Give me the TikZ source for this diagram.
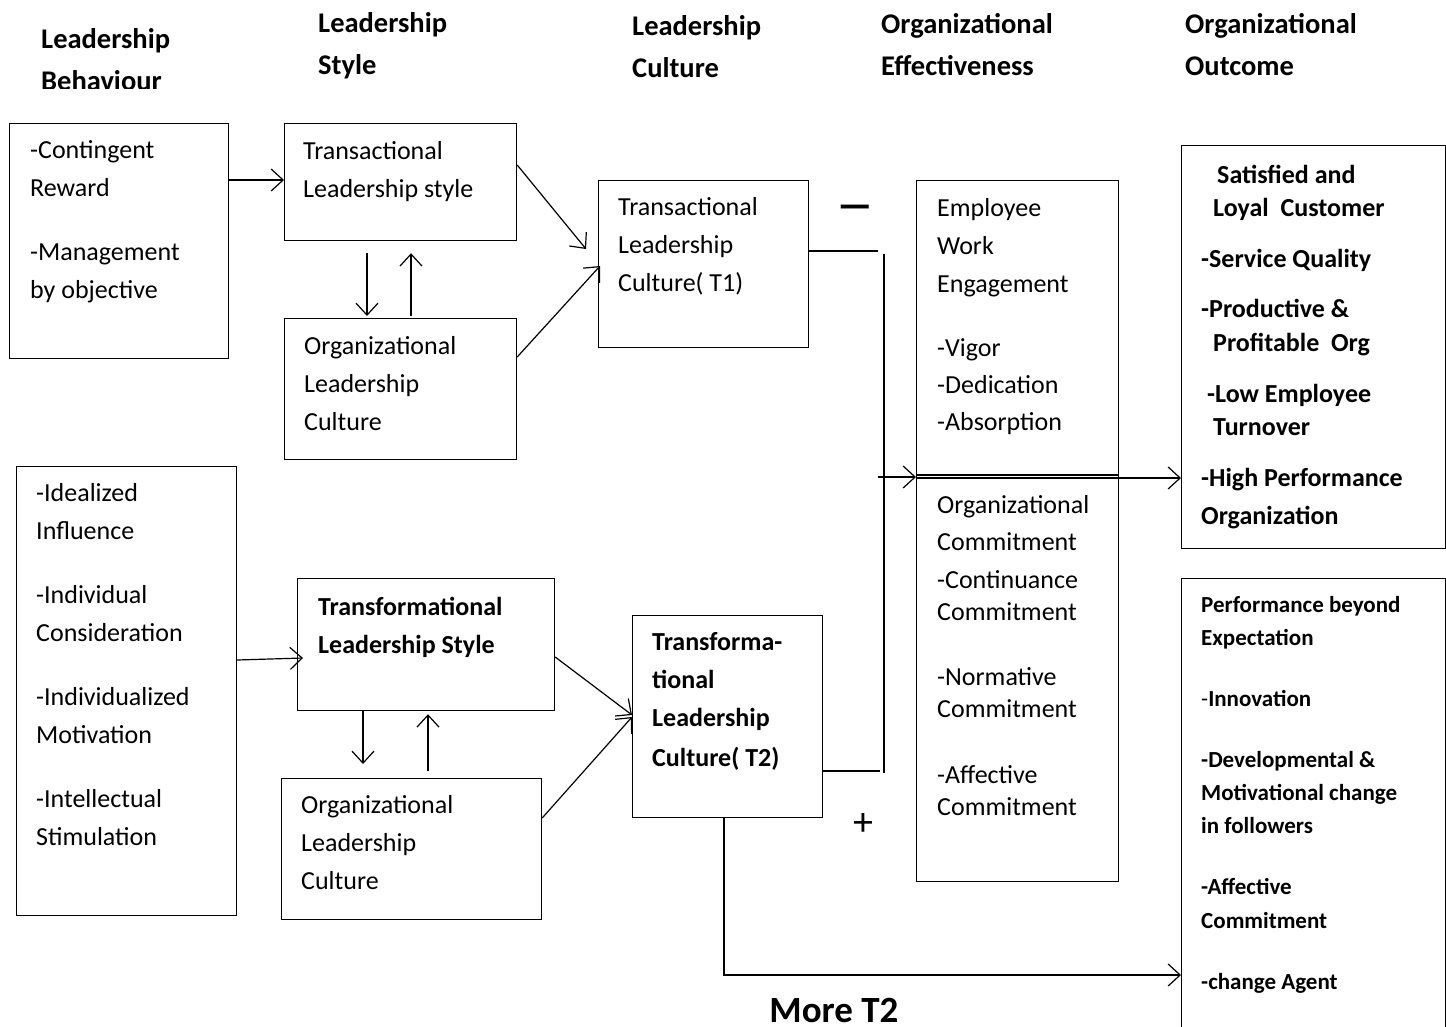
\documentclass[tikz,border=0pt]{standalone}
\usepackage{fontspec}
\setmainfont{Carlito}
\usetikzlibrary{arrows.meta,calc}

\begin{document}
\begin{tikzpicture}[x=1pt,y=-1pt,
  box/.style={draw,line width=1.2pt,rectangle,inner sep=0pt,anchor=north west},
  % multi-line texts are placed by the baseline of their last line
  txt/.style={anchor=base west,inner sep=0pt,align=left,font=\fontsize{26}{38}\selectfont},
  btxt/.style={anchor=base west,inner sep=0pt,align=left,font=\fontsize{26}{38}\selectfont\bfseries},
  otxt/.style={anchor=base west,inner sep=0pt,align=left,font=\fontsize{26}{33}\selectfont\bfseries},
  stxt/.style={anchor=base west,inner sep=0pt,align=left,font=\fontsize{23}{33}\selectfont\bfseries},
  hdr/.style={anchor=base west,inner sep=0pt,align=left,font=\fontsize{28.5}{42}\selectfont\bfseries},
  conn/.style={line width=1.2pt},
  arr/.style={line width=1.2pt,-{Straight Barb[length=12pt,width=22pt]}}]

\fill[white] (0,0) rectangle (1446,1026);
\clip (0,0) rectangle (1446,1026);

% column headings
\begin{scope}
  \clip (0,0) rectangle (300,88);
  \node[hdr] (h1) at (41,90) {Leadership\\Behaviour};
\end{scope}
\node[hdr] (h2) at (318,74) {Leadership\\Style};
\node[hdr] (h3) at (632,77) {Leadership\\Culture};
\node[hdr] (h4) at (881,75) {Organizational\\Effectiveness};
\node[hdr] (h5) at (1185,75) {Organizational\\Outcome};

% boxes
\node[box,minimum width=219pt,minimum height=235pt] (lb1) at (9,123) {};
\node[box,minimum width=232pt,minimum height=117pt] (tls) at (284,123) {};
\node[box,minimum width=232pt,minimum height=141pt] (olc1) at (284,318) {};
\node[box,minimum width=210pt,minimum height=167pt] (tlc1) at (598,180) {};
\node[box,minimum width=202pt,minimum height=701pt] (eff) at (916,180) {};
\node[box,minimum width=264pt,minimum height=403pt] (out1) at (1181,145) {};
\node[box,minimum width=220pt,minimum height=449pt] (lb2) at (16,466) {};
\node[box,minimum width=257pt,minimum height=132pt] (tfls) at (297,578) {};
\node[box,minimum width=260pt,minimum height=141pt] (olc2) at (281,778) {};
\node[box,minimum width=190pt,minimum height=202pt] (tflc) at (632,615) {};
\node[box,minimum width=264pt,minimum height=470pt] (out2) at (1181,578) {};

% box texts
\node[txt] (lb1t) at (30,298) {-Contingent\\Reward\\[26pt]-Management\\by objective};
\node[txt] (tlst) at (303,197) {Transactional\\Leadership style};
\node[txt] (olc1t) at (304,430) {Organizational\\Leadership\\Culture};
\node[txt] (tlc1t) at (618,291) {Transactional\\Leadership\\Culture( T1)};
\node[txt] (efft) at (937,815) {Employee\\Work\\Engagement\\[26pt]-Vigor\\[-1pt]-Dedication\\[-1pt]-Absorption\\[45pt]Organizational\\[-1pt]Commitment\\-Continuance\\[-6pt]Commitment\\[27pt]-Normative\\[-6pt]Commitment\\[28pt]-Affective\\[-6pt]Commitment};
\node[otxt] (out1t) at (1201,524) {\hspace*{16pt}Satisfied and\\\hspace*{12pt}Loyal~~Customer\\[18pt]-Service Quality\\[17pt]-Productive \&\\[1pt]\hspace*{12pt}Profitable~~Org\\[18pt]\hspace*{6pt}-Low Employee\\\hspace*{12pt}Turnover\\[18pt]-High Performance\\[5pt]Organization};
\node[txt] (lb2t) at (36,845) {-Idealized\\Influence\\[26pt]-Individual\\Consideration\\[26pt]-Individualized\\Motivation\\[26pt]-Intellectual\\Stimulation};
\node[btxt] (tflst) at (318,653) {Transformational\\Leadership Style};
\node[txt] (olc2t) at (301,889) {Organizational\\Leadership\\Culture};
\node[btxt] (tflct) at (652,766) {Transforma-\\tional\\Leadership\\[2pt]Culture( T2)};
\node[stxt] (out2t) at (1201,989) {Performance beyond\\Expectation\\[28pt]{\mdseries -}Innovation\\[28pt]-Developmental \&\\Motivational change\\in followers\\[28pt]-Affective\\[1pt]Commitment\\[28pt]-change Agent};

% signs and caption
\node[inner sep=0pt,font=\fontsize{44}{44}\selectfont\bfseries] (minus) at (855,212) {\scalebox{1.8}[1]{--}};
\node[inner sep=0pt,font=\fontsize{40}{40}\selectfont] (plus) at (863,824) {+};
\node[inner sep=0pt,font=\fontsize{37}{37}\selectfont\bfseries,anchor=base] (more) at (834,1022) {More T2};

% junction points
\coordinate (jt) at (878,251);
\coordinate (jb) at (880,771);
\coordinate (vt) at (884,254);
\coordinate (vb) at (884,773);
\coordinate (ja) at (878,477);
\coordinate (bend) at (724,975);

% transactional path
\draw[arr] (lb1.east |- 0,180) -- (tls.west |- 0,180);
\draw[arr,shorten <=12pt,shorten >=2pt] (367,0 |- tls.south) -- (367,0 |- olc1.north);
\draw[arr,shorten <=2pt,shorten >=12pt] (411,0 |- olc1.north) -- (411,0 |- tls.south);
\draw[arr] (tls.east |- 0,165) -- ($(tlc1.west |- 0,249)+(-12,0)$);
\draw[arr] (olc1.east |- 0,357) -- ($(tlc1.west |- 0,266)+(2,0)$);
\draw[conn] (tlc1.east |- jt) -- (jt);

% transformational path
\draw[arr] (lb2.east |- 0,660) -- ($(tfls.west |- 0,658)+(6,0)$);
\draw[arr,shorten >=14pt] (363,0 |- tfls.south) -- (363,0 |- olc2.north);
\draw[arr,shorten <=7pt,shorten >=3pt] (428,0 |- olc2.north) -- (428,0 |- tfls.south);
\draw[arr] (tfls.east |- 0,657) -- (tflc.west |- 0,715);
\draw[arr] (olc2.east |- 0,818) -- (tflc.west |- 0,717);
\draw[conn] (tflc.east |- jb) -- (jb);

% combined effect
\draw[conn] (vt) -- (vb);
\draw[arr] (ja) -- (eff.west |- ja);
\draw[conn] (eff.west |- 0,475) -- (eff.east |- 0,475);
\draw[arr] (eff.west |- 0,478) -- (out1.west |- 0,478);

% more T2
\draw[arr] (724,0 |- tflc.south) -- (bend) -- (out2.west |- bend);

\end{tikzpicture}
\end{document}
